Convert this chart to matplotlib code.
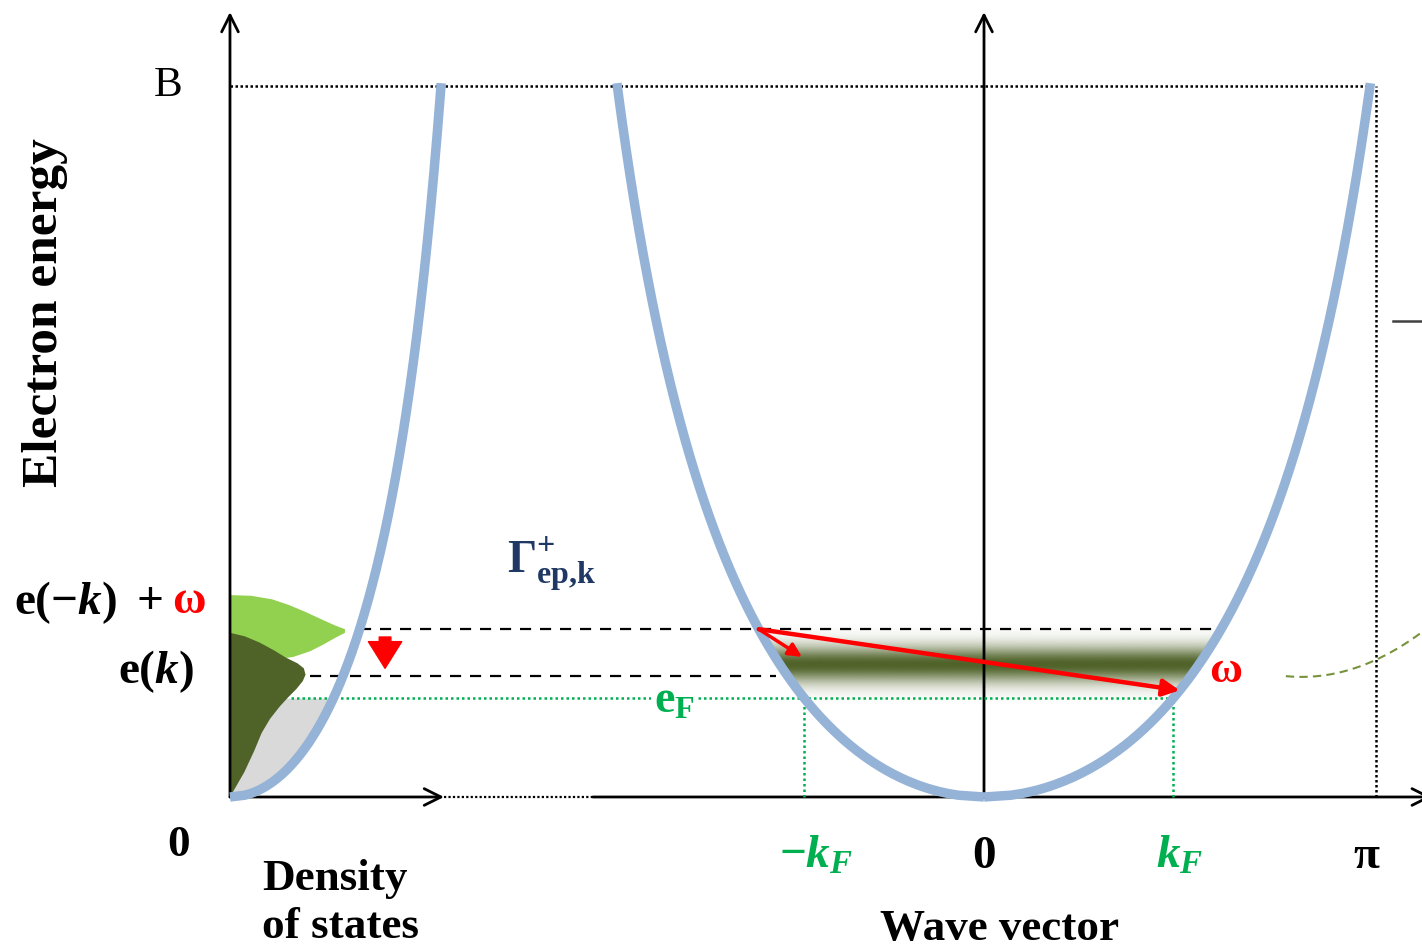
import numpy as np
import matplotlib
matplotlib.use("Agg")
import matplotlib.pyplot as plt
from matplotlib.patches import Polygon

plt.rcParams["font.family"] = ["Liberation Serif", "DejaVu Serif"]
plt.rcParams["mathtext.fontset"] = "custom"
plt.rcParams["mathtext.rm"] = "Liberation Serif:bold"
plt.rcParams["mathtext.bf"] = "Liberation Serif:bold"
plt.rcParams["mathtext.it"] = "Liberation Serif:bold:italic"

# --- band / levels (k in units of pi, energy in units of B) ---
BAND_D = 0.49          # curvature parameter of the drawn dispersion
LEFT_SCALE = 0.95      # left branch is drawn a bit narrower
E_FERMI = 0.139
E_K = 0.170            # e(k)
E_MK = 0.236           # e(-k) + omega
E_ARROW_END = 0.150
E_SHORT_END = 0.197
E_BAND_CENTER = 0.187

# --- density of states shapes (energy, density) ---
dos_light_E = [0.284, 0.283, 0.278, 0.270, 0.260, 0.249, 0.241, 0.236, 0.231,
               0.224, 0.214, 0.205, 0.197, 0.192, 0.187]
dos_light_d = [0.0, 0.100, 0.200, 0.280, 0.360, 0.440, 0.500, 0.545, 0.545,
               0.500, 0.440, 0.380, 0.300, 0.180, 0.0]
dos_dark_E = [0.231, 0.226, 0.217, 0.206, 0.196, 0.188, 0.181, 0.172, 0.163,
              0.152, 0.140, 0.127, 0.110, 0.090, 0.065, 0.035, 0.0]
dos_dark_d = [0.0, 0.070, 0.142, 0.210, 0.265, 0.320, 0.350, 0.358, 0.345,
              0.315, 0.275, 0.235, 0.190, 0.150, 0.115, 0.068, 0.0]

# --- tick labels ---
k_tick_labels = [r"$-k_F$", "0", r"$k_F$", "π"]

# layout: DOS panel origin and width, in k units
DOS_X0 = -1.9534
DOS_W = 0.5466

BLUE = "#95b3d7"
GREEN = "#00b050"
RED = "#ff0000"
NAVY = "#1f3864"


def band_energy(k):
    k2 = np.asarray(k) ** 2
    return (1 - BAND_D) * k2 / (1 - BAND_D * k2)


def band_k(E):
    E = np.asarray(E)
    return np.sqrt(E / ((1 - BAND_D) + BAND_D * E))


def dos_x(d):
    return DOS_X0 + DOS_W * np.asarray(d)


fig = plt.figure(figsize=(14.22, 9.48), dpi=100)
ax = fig.add_axes([0, 0, 1, 1])
ax.set_xlim(-2.5492, 1.1347)
ax.set_ylim(-0.2124, 1.1210)
ax.axis("off")

E = np.linspace(0, 1.004, 400)
k_right = band_k(E)
k_left = -LEFT_SCALE * band_k(E)
kF_r = float(band_k(E_FERMI))
kF_l = -LEFT_SCALE * kF_r

# gradient band between the two branches
Eb = np.linspace(0.13, 0.245, 120)
poly_pts = np.vstack([np.column_stack([-LEFT_SCALE * band_k(Eb), Eb]),
                      np.column_stack([band_k(Eb[::-1]), Eb[::-1]])])
clip = Polygon(poly_pts, closed=True, facecolor="none", edgecolor="none")
ax.add_patch(clip)
yy = np.linspace(0.13, 0.245, 200)
alpha = np.exp(-0.5 * ((yy - E_BAND_CENTER) / 0.018) ** 2)
img = np.zeros((len(yy), 1, 4))
img[:, 0, :3] = matplotlib.colors.to_rgb("#4f6228")
img[:, 0, 3] = alpha
im = ax.imshow(img, extent=[-0.8, 0.8, 0.13, 0.245], origin="lower",
               aspect="auto", zorder=1, interpolation="bilinear")
im.set_clip_path(clip)

# DOS fills
Eg = np.linspace(0, E_FERMI, 100)
ax.fill_betweenx(Eg, dos_x(0), dos_x(band_k(Eg)), color="#d9d9d9", lw=0, zorder=1)
ax.fill(dos_x(dos_light_d), dos_light_E, color="#92d050", lw=0, zorder=2)
ax.fill(dos_x(dos_dark_d), dos_dark_E, color="#4f6228", lw=0, zorder=3)

# axes lines
arrow_kw = dict(arrowstyle="->", lw=2, color="black", mutation_scale=30,
                shrinkA=0, shrinkB=0)
ax.annotate("", xy=(DOS_X0, 1.104), xytext=(DOS_X0, 0), arrowprops=arrow_kw)
ax.annotate("", xy=(0, 1.104), xytext=(0, 0), arrowprops=arrow_kw)
ax.annotate("", xy=(-1.399, 0), xytext=(DOS_X0, 0), arrowprops=arrow_kw)
ax.plot([-1.399, -1.013], [0, 0], color="black", lw=1.6, ls=(0, (1, 1)))
ax.annotate("", xy=(1.16, 0), xytext=(-1.013, 0), annotation_clip=False,
            arrowprops=arrow_kw)

# B level and pi boundary
ax.plot([DOS_X0, 1.0], [1, 1], color="black", lw=1.8, ls=(0, (1, 1)))
ax.plot([1.0155, 1.0155], [0, 1], color="black", lw=1.8, ls=(0, (1, 1)))
ax.plot([1.0596, 1.14], [0.6695, 0.6695], color="#404040", lw=1.8)

# energy levels
ax.plot([dos_x(band_k(E_MK)), band_k(E_MK)], [E_MK, E_MK], color="black", lw=1.6,
        ls=(0, (5, 4)), zorder=4)
ax.plot([dos_x(0.38), -LEFT_SCALE * band_k(E_K) - 0.03], [E_K, E_K], color="black",
        lw=1.6, ls=(0, (5, 4)), zorder=4)
ax.plot([dos_x(0.29), kF_r], [E_FERMI, E_FERMI], color=GREEN, lw=1.8,
        ls=(0, (1, 1.2)), zorder=4)
ax.plot([kF_l, kF_l], [0, E_FERMI], color=GREEN, lw=1.8, ls=(0, (1, 1.2)), zorder=4)
ax.plot([kF_r, kF_r], [0, E_FERMI], color=GREEN, lw=1.8, ls=(0, (1, 1.2)), zorder=4)

# curves
ax.plot(k_right, E, color=BLUE, lw=6.8, solid_capstyle="butt", zorder=5)
ax.plot(k_left, E, color=BLUE, lw=6.8, solid_capstyle="butt", zorder=5)
ax.plot(dos_x(band_k(E)), E, color=BLUE, lw=6.8, solid_capstyle="butt", zorder=5)

# olive dashed arc at the right edge
arc_k = [0.782, 1.0155, 1.1347]
arc_E = [0.170, 0.193, 0.232]
coef = np.polyfit(arc_k, arc_E, 2)
ka = np.linspace(0.782, 1.14, 50)
ax.plot(ka, np.polyval(coef, ka), color="#77933c", lw=1.5, ls=(0, (4, 2.5)))

# scattering arrows
k_start = -LEFT_SCALE * float(band_k(E_MK))
ax.annotate("", xy=(float(band_k(E_ARROW_END)), E_ARROW_END), xytext=(k_start, E_MK),
            arrowprops=dict(arrowstyle="-|>", lw=3.2, color=RED, mutation_scale=25,
                            shrinkA=0, shrinkB=0), zorder=6)
ax.annotate("", xy=(-0.4715, E_SHORT_END), xytext=(k_start, E_MK),
            arrowprops=dict(arrowstyle="-|>", lw=2.5, color=RED, mutation_scale=20,
                            shrinkA=0, shrinkB=0), zorder=6)
ax.annotate("", xy=(dos_x(0.735), 0.181), xytext=(dos_x(0.735), 0.225),
            arrowprops=dict(arrowstyle="simple,head_length=0.8,head_width=1.0,tail_width=0.35",
                            color=RED, mutation_scale=24, shrinkA=0, shrinkB=0), zorder=6)

# texts
FS = 32.5
ax.text(-2.4326, 0.682, "Electron energy", rotation=90, ha="center", va="center",
        fontsize=37, fontweight="bold")
ax.text(-2.114, 1.0, "B", ha="center", va="center", fontsize=31)
ax.text(-2.0855, -0.067, "0", ha="center", va="center", fontsize=FS, fontweight="bold")
ax.text(-1.87, -0.149, "Density\nof states", ha="left", va="center", fontsize=FS,
        fontweight="bold", linespacing=1.25)
ax.text(0.0415, -0.186, "Wave vector", ha="center", va="center", fontsize=FS,
        fontweight="bold")
tick_pos = [kF_l + 0.03, 0, kF_r + 0.015, 0.99]
tick_col = [GREEN, "black", GREEN, "black"]
for pos, lab, col in zip(tick_pos, k_tick_labels, tick_col):
    ax.text(pos, -0.084, lab, ha="center", va="center", fontsize=34, color=col,
            fontweight="bold")
ax.text(-1.119, 0.328, r"$\Gamma^{+}_{\mathrm{ep}{,}\mathrm{k}}$", ha="center",
        va="center", fontsize=33, color=NAVY)
ax.text(-0.803, 0.134, r"$\mathrm{e}_{\mathrm{F}}$", ha="center", va="center",
        fontsize=33, color=GREEN, zorder=5,
        bbox=dict(facecolor="white", edgecolor="none", pad=2))
ax.text(0.627, 0.177, "ω", ha="center", va="center", fontsize=FS, color=RED,
        fontweight="bold")
ax.text(-2.127, 0.274, r"$\mathrm{e}(-k)\ +$", ha="right", va="center", fontsize=34)
ax.text(-2.104, 0.274, "ω", ha="left", va="center", fontsize=33, color=RED,
        fontweight="bold")
ax.text(-2.145, 0.176, r"$\mathrm{e}(k)$", ha="center", va="center", fontsize=34)

fig.savefig("out.png", dpi=100)
